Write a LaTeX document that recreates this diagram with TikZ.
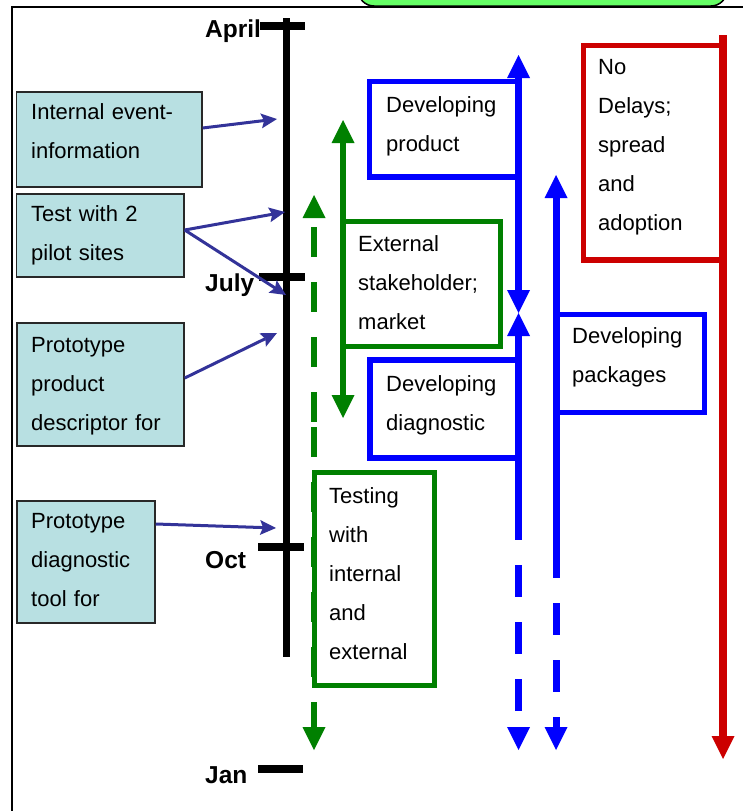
\documentclass[tikz,border=0pt]{standalone}
\usepackage{fontspec}
\setmainfont{Liberation Sans}
\usetikzlibrary{arrows.meta}
\definecolor{boxfill}{RGB}{184,224,226}
\definecolor{boxedge}{RGB}{40,40,40}
\definecolor{navyarrow}{RGB}{51,51,153}
\definecolor{dgreen}{RGB}{0,128,0}
\definecolor{pblue}{RGB}{0,0,255}
\definecolor{dred}{RGB}{204,0,0}
\definecolor{topgreen}{RGB}{102,255,102}
\begin{document}
\begin{tikzpicture}[x=1pt,y=-1pt,
  >={Triangle[width=23pt,length=23pt,line width=0pt]},
  lbox/.style={draw=boxedge,fill=boxfill,line width=1.5pt,inner sep=0pt},
  gbox/.style={draw=dgreen,line width=5pt,inner sep=0pt},
  bbox/.style={draw=pblue,line width=5.5pt,inner sep=0pt},
  rbox/.style={draw=dred,line width=5.5pt,inner sep=0pt},
  txt/.style={font=\fontsize{22}{39}\selectfont,text width=220pt,align=left,anchor=base west,inner sep=0pt},
  lbl/.style={font=\fontsize{24.5}{28}\selectfont\bfseries,anchor=base west,inner sep=0pt},
  navyarr/.style={draw=navyarrow,line width=3pt,-{Stealth[length=16pt,width=15pt,inset=3pt,line width=0pt]}},
  gline/.style={draw=dgreen,line width=6.5pt},
  bline/.style={draw=pblue,line width=7pt},
  rline/.style={draw=dred,line width=7.5pt},
  tick/.style={draw=black,line width=8pt}]
\useasboundingbox (0,0) rectangle (743,811);
% frame
\coordinate (frTL) at (11.5,7);
\coordinate (frTR) at (743,7);
\coordinate (frBL) at (11.5,811);
\draw[line width=2pt] (frTR) -- (frTL) -- (frBL);
\node[draw=black,fill=topgreen,line width=1.5pt,rounded corners=16pt,minimum width=369pt,minimum height=70pt,inner sep=0pt] (topbox) at (542.5,-29) {};
% left boxes
\node[lbox,minimum width=185.3pt,minimum height=95pt] (ib1) at (109.3,139.5) {};
\node[lbox,minimum width=167.3pt,minimum height=83pt] (ib2) at (100.3,235.5) {};
\node[lbox,minimum width=167pt,minimum height=123pt] (ib3) at (100.5,384.5) {};
\node[lbox,minimum width=138pt,minimum height=122pt] (ib4) at (86,562) {};
\node[txt] (t1) at (31,119) {Internal event-\\information};
\node[txt] (t2) at (31,221) {Test with 2\\pilot sites};
\node[txt] (t3) at (31,352) {Prototype\\product\\descriptor for};
\node[txt] (t4) at (31,528) {Prototype\\diagnostic\\tool for};
% timeline
\node[lbl] (lapr) at (205,37) {April};
\node[lbl] (ljul) at (205,291) {July};
\node[lbl] (loct) at (205,568) {Oct};
\node[lbl] (ljan) at (205,783) {Jan};
\coordinate (ttop) at (286,18);
\coordinate (tbot) at (286,657);
\draw[line width=7pt] (ttop) -- (tbot);
\coordinate (aprL) at (260,26); \coordinate (aprR) at (305,26);
\coordinate (julL) at (259,277); \coordinate (julR) at (305,277);
\coordinate (octL) at (258,547); \coordinate (octR) at (304,547);
\coordinate (janL) at (258,769); \coordinate (janR) at (303,769);
\draw[tick] (aprL) -- (aprR);
\draw[tick] (julL) -- (julR);
\draw[tick] (octL) -- (octR);
\draw[tick] (janL) -- (janR);
% navy arrows
\coordinate (tl1) at (277,119);
\coordinate (tl2) at (285,212);
\coordinate (tl3) at (286,295);
\coordinate (tl4) at (277,333);
\coordinate (tl5) at (276,528);
\draw[navyarr] ([yshift=11.5pt]ib1.east) -- (tl1);
\draw[navyarr] ([yshift=5.5pt]ib2.east) -- (tl2);
\draw[navyarr] ([yshift=5.5pt]ib2.east) -- (tl3);
\draw[navyarr] ([yshift=6.5pt]ib3.east) -- (tl4);
\draw[navyarr] ([yshift=38pt]ib4.east) -- (tl5);
% coloured boxes
\node[bbox,minimum width=149pt,minimum height=95.5pt] (devprod) at (444,129.25) {};
\node[gbox,minimum width=157pt,minimum height=125pt] (ext) at (421.5,283.5) {};
\node[bbox,minimum width=148pt,minimum height=98pt] (devdiag) at (444,409) {};
\node[bbox,minimum width=148.5pt,minimum height=98pt] (devpack) at (630.25,363.5) {};
\node[rbox,minimum width=139.5pt,minimum height=214.5pt] (nodel) at (653.25,152.75) {};
\node[gbox,minimum width=120.5pt,minimum height=213pt] (testing) at (374.25,579) {};
\node[txt] (t5) at (386,112) {Developing\\product};
\node[txt] (t6) at (358,251) {External\\stakeholder;\\market};
\node[txt] (t7) at (386,391) {Developing\\diagnostic};
\node[txt] (t8) at (572,343) {Developing\\packages};
\node[txt] (t9) at (598,74) {No\\Delays;\\spread\\and\\adoption};
\node[txt] (t10) at (329,503) {Testing\\with\\internal\\and\\external};
% green arrows
\coordinate (g1t) at (343,120); \coordinate (g1b) at (343,418);
\draw[gline,<->] (g1t) -- (g1b);
\coordinate (g2t) at (314,195); \coordinate (g2m) at (314,422);
\coordinate (g2n) at (314,427); \coordinate (g2b) at (314,750);
\draw[gline,<-,dash pattern=on 30pt off 25pt,dash phase=46pt] (g2t) -- (g2m);
\draw[gline,->,dash pattern=on 30pt off 25pt] (g2n) -- (g2b);
% blue arrows
\coordinate (b1t) at (518.5,55); \coordinate (b1m) at (518.5,313);
\coordinate (b1s) at (518.5,540); \coordinate (b1b) at (518.5,750);
\draw[bline,<->] (b1t) -- (b1m);
\draw[bline,<-] (b1m) -- (b1s);
\draw[bline,->,dash pattern=on 32pt off 25pt,dash phase=32pt] (b1s) -- (b1b);
\coordinate (b2t) at (556,175); \coordinate (b2s) at (556,578); \coordinate (b2b) at (556,750);
\draw[bline,<-] (b2t) -- (b2s);
\draw[bline,->,dash pattern=on 32pt off 25pt,dash phase=32pt] (b2s) -- (b2b);
% red arrow
\coordinate (rt) at (723,35); \coordinate (rb) at (723,759);
\draw[rline,->] (rt) -- (rb);
\end{tikzpicture}
\end{document}
